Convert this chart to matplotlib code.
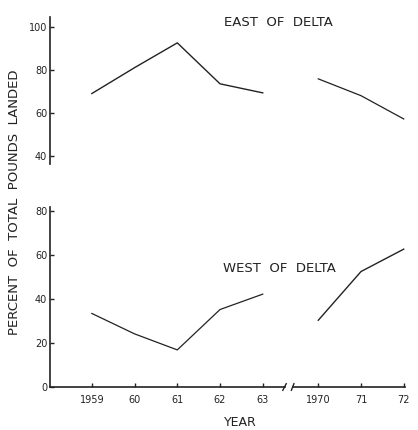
import matplotlib
matplotlib.use("Agg")
import matplotlib.pyplot as plt

# data
years_a = [1959, 1960, 1961, 1962, 1963]
years_b = [1970, 1971, 1972]
tick_labels = ["1959", "60", "61", "62", "63", "1970", "71", "72"]

east_a = [69, 81, 92.5, 73.5, 69.3]
east_b = [75.8, 68, 57.2]

west_a = [33.5, 24.2, 16.9, 35.3, 42.3]
west_b = [30.4, 52.6, 62.8]

# broken axis: second group shifted after the gap
gap = 1.3
xa = [i for i in range(len(years_a))]
xb = [len(years_a) - 1 + gap + i for i in range(len(years_b))]

ink = "#222222"
plt.rcParams['font.family'] = ['DejaVu Sans']

fig = plt.figure(figsize=(4.18, 4.30), dpi=100)
W, H = 418.0, 430.0
left = 50 / W
width = (405 - 50) / W

ax1 = fig.add_axes([left, 1 - 164 / H, width, (164 - 17) / H])
ax2 = fig.add_axes([left, 1 - 387 / H, width, (387 - 207) / H])

xmin, xmax = -0.98, xb[-1] + 0.03

for ax in (ax1, ax2):
    ax.set_xlim(xmin, xmax)
    for s in ("top", "right", "bottom"):
        ax.spines[s].set_visible(False)
    ax.spines["left"].set_color(ink)
    ax.spines["left"].set_linewidth(1.2)
    ax.tick_params(axis="y", direction="in", length=3, width=1, colors=ink,
                   labelsize=7, pad=2)

# upper panel
ax1.plot(xa, east_a, color=ink, lw=1.0)
ax1.plot(xb, east_b, color=ink, lw=0.9)
ax1.set_ylim(36.3, 104.5)
ax1.set_yticks([40, 60, 80, 100])
ax1.set_xticks([])
ax1.text(3.1, 101.8, "EAST  OF  DELTA", fontsize=9.5, color=ink, va="center")

# lower panel
ax2.plot(xa, west_a, color=ink, lw=0.9)
ax2.plot(xb, west_b, color=ink, lw=1.0)
ax2.set_ylim(0, 82)
ax2.set_yticks([0, 20, 40, 60, 80])
ax2.text(3.07, 54, "WEST  OF  DELTA", fontsize=9.5, color=ink, va="center")

# broken x axis
b1, b2 = 4.51, 4.70
ax2.plot([xmin, b1], [0, 0], color=ink, lw=1.2, clip_on=False)
ax2.plot([b2, xmax], [0, 0], color=ink, lw=1.2, clip_on=False)
ax2.plot([b1 - 0.04, b1 + 0.04], [-1.5, 1.5], color=ink, lw=1.0, clip_on=False)
ax2.plot([b2 - 0.03, b2 + 0.03], [-1.5, 1.5], color=ink, lw=1.0, clip_on=False)
ax2.set_xticks(xa + xb)
ax2.set_xticklabels(tick_labels)
ax2.tick_params(axis="x", direction="in", length=3, width=1, colors=ink,
                labelsize=7, pad=6)

fig.text(240 / W, 1 - 422 / H, "YEAR", fontsize=9, color=ink,
         ha="center", va="center")
fig.text(15 / W, 1 - 202 / H, "PERCENT  OF  TOTAL  POUNDS  LANDED",
         fontsize=9.5, color=ink, rotation=90, ha="center", va="center")

fig.savefig("out.png", dpi=100, facecolor="white")
